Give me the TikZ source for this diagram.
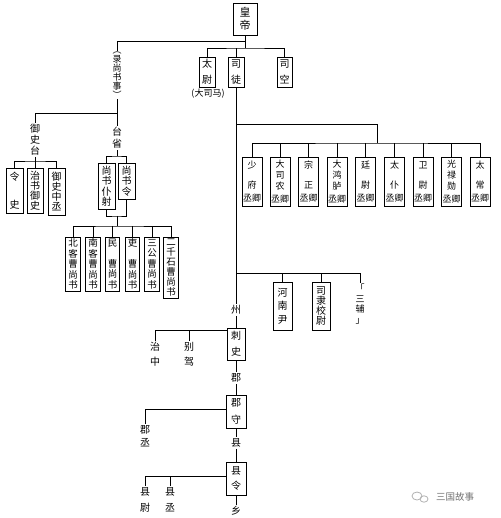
\documentclass[tikz,border=0pt]{standalone}
\usepackage{fontspec}
\setmainfont{Noto Sans CJK SC}
\newcommand\fsz[2]{\fontsize{#1}{#2}\selectfont}
\tikzset{
  bx/.style={draw, line width=0.6pt, inner sep=0pt, align=center},
  lb/.style={inner sep=1.2pt, align=center},
  ln/.style={line width=0.6pt},
  qing/.style={bx, minimum width=20pt, minimum height=49pt, font=\fsz{9}{11}},
  cao/.style={bx, minimum width=14.5pt, minimum height=54pt, font=\fsz{9.5}{10.5}}
}
\begin{document}
\begin{tikzpicture}[x=1pt,y=-1pt]
\useasboundingbox (0,0) rectangle (500,518);
% top
\node[bx, minimum width=24pt, minimum height=32pt, font=\fsz{11}{13}] (hd) at (245,19) {皇\\帝};
\node[bx, minimum width=16pt, minimum height=30pt, font=\fsz{10}{16}] (taiwei) at (207,72) {太\\尉};
\node[lb, font=\fsz{9}{10}] (dasima) at (208,94) {(大司马)};
\node[bx, minimum width=16pt, minimum height=30pt, font=\fsz{10}{16}] (situ) at (236,72) {司\\徒};
\node[bx, minimum width=15pt, minimum height=30pt, font=\fsz{10}{16}] (sikong) at (284.5,72) {司\\空};
\node[lb, inner sep=0.5pt, font=\fsz{9}{9}] (lu) at (117,75) {︵\\录\\尚\\书\\事\\︶};
% left branch
\node[lb, font=\fsz{10}{11}] (yst) at (35,140) {御\\史\\台};
\node[lb, font=\fsz{10}{12}] (tsh) at (117,138) {台\\省};
\node[bx, minimum width=17pt, minimum height=45pt, font=\fsz{10}{10}] (ls) at (14.5,190.5) {令\\[18pt]史};
\node[bx, minimum width=16pt, minimum height=45pt, font=\fsz{10}{10}] (zsys) at (35,190.5) {治\\书\\御\\史};
\node[bx, minimum width=17pt, minimum height=47pt, font=\fsz{10}{10}] (yszc) at (56.5,191.5) {御\\史\\中\\丞};
\node[bx, minimum width=17pt, minimum height=46pt, font=\fsz{10}{10.5}] (pushe) at (106.5,186) {尚\\书\\仆\\射};
\node[bx, minimum width=17pt, minimum height=36pt, font=\fsz{10}{10.5}] (shl) at (126.5,181) {尚\\书\\令};
\node[cao] (c1) at (73,264) {北\\客\\曹\\尚\\书};
\node[cao] (c2) at (93,264) {南\\客\\曹\\尚\\书};
\node[cao] (c3) at (112.5,264) {民\\[10.5pt]曹\\尚\\书};
\node[cao] (c4) at (132.5,264) {吏\\[10.5pt]曹\\尚\\书};
\node[cao] (c5) at (152,264) {三\\公\\曹\\尚\\书};
\node[cao, minimum height=61pt, font=\fsz{9.5}{10}] (c6) at (171,267.5) {二\\千\\石\\曹\\尚\\书};
% nine ministers
\node[qing] (q1) at (252,181.5) {少\\[9pt]府\\[2pt]丞卿};
\node[qing] (q2) at (280,181.5) {大\\司\\农\\[2pt]丞卿};
\node[qing] (q3) at (308.5,181.5) {宗\\[9pt]正\\[2pt]丞卿};
\node[qing] (q4) at (337,181.5) {大\\鸿\\胪\\[2pt]丞卿};
\node[qing] (q5) at (365.5,181.5) {廷\\[9pt]尉\\[2pt]丞卿};
\node[qing] (q6) at (394.5,181.5) {太\\[9pt]仆\\[2pt]丞卿};
\node[qing] (q7) at (423,181.5) {卫\\[9pt]尉\\[2pt]丞卿};
\node[qing] (q8) at (451.5,181.5) {光\\禄\\勋\\[2pt]丞卿};
\node[qing] (q9) at (480,181.5) {太\\[9pt]常\\[2pt]丞卿};
% capital
\node[bx, minimum width=19pt, minimum height=48pt, font=\fsz{10}{13.5}] (henan) at (282.5,306) {河\\南\\尹};
\node[bx, minimum width=18pt, minimum height=48pt, font=\fsz{10}{10}] (sili) at (321,306) {司\\隶\\校\\尉};
\node[lb, font=\fsz{9}{10.5}] (sanfu) at (360,304) {「\\三\\辅\\」};
% local
\node[lb, font=\fsz{10}{12}] (zhou) at (236,310) {州};
\node[bx, minimum width=18pt, minimum height=32pt, font=\fsz{10}{16}] (cishi) at (236,344) {刺\\史};
\node[lb, font=\fsz{10}{15}] (zhizhong) at (155,354.5) {治\\中};
\node[lb, font=\fsz{10}{15}] (biejia) at (189,354.5) {别\\驾};
\node[lb, font=\fsz{10}{12}] (jun) at (236,378) {郡};
\node[bx, minimum width=20pt, minimum height=33pt, font=\fsz{10}{17}] (junshou) at (236,411.5) {郡\\守};
\node[lb, font=\fsz{10}{13}] (junch) at (145,436.5) {郡\\丞};
\node[lb, font=\fsz{10}{12}] (xian) at (236,443) {县};
\node[bx, minimum width=20pt, minimum height=33pt, font=\fsz{10}{15}] (xianling) at (236,478.5) {县\\令};
\node[lb, font=\fsz{10}{16}] (xw) at (145,500) {县\\尉};
\node[lb, font=\fsz{10}{16}] (xc) at (170,500) {县\\丞};
\node[lb, font=\fsz{10}{12}] (xiang) at (236,511) {乡};
% watermark
\node[lb, text=black!55, font=\fsz{9.5}{11}] (wm) at (455,497) {三国故事};
\draw[black!30, line width=0.8pt] (417,496) ellipse (5pt and 4pt);
\draw[black!30, line width=0.8pt] (424,499) ellipse (4pt and 3.2pt);
% junction coordinates
\coordinate (j41) at (245,41);
\coordinate (j48) at (245,48);
\coordinate (j113) at (117,113);
\coordinate (j161) at (35,161);
\coordinate (j156) at (117,156);
\coordinate (j216) at (117,216);
\coordinate (j226) at (117,226);
\coordinate (j124) at (236,124);
\coordinate (j143) at (377,143);
\coordinate (j273) at (236,273);
\coordinate (j330) at (155,330);
\coordinate (j409) at ([yshift=2pt]junshou.west);
\coordinate (j476) at ([yshift=2pt]xianling.west);
% connectors
\begin{scope}[ln]
\draw (hd.south) -- (j48);
\draw (taiwei.north) |- (j48) -| (sikong.north);
\draw (situ.north) -- (situ.north |- j48);
\draw (j41) -| (lu.north);
\draw (lu.south) -- (tsh.north);
\draw (yst.north) |- (j113);
\draw (yst.south) -- (j161);
\draw (ls.north) |- (j161) -| (yszc.north);
\draw (zsys.north) -- (j161);
\draw (tsh.south) -- (j156);
\draw (pushe.north) |- (j156) -| (shl.north);
\draw (pushe.south) |- (j216) -| (shl.south);
\draw (j216) -- (j226);
\draw (c1.north) |- (j226) -| (c6.north);
\foreach \c in {c2,c3,c4,c5} \draw (\c.north) -- (\c.north |- j226);
\draw (situ.south) -- (zhou.north);
\draw (j124) -| (j143);
\draw (q1.north) |- (j143) -| (q9.north);
\foreach \q in {q2,q3,q4,q5,q6,q7,q8} \draw (\q.north) -- (\q.north |- j143);
\draw (j273) -| (sanfu.north);
\draw (henan.north) -- (henan.north |- j273);
\draw (sili.north) -- (sili.north |- j273);
\draw (zhou.south) -- (cishi.north);
\draw (cishi.west |- j330) -| (zhizhong.north);
\draw (biejia.north) -- (biejia.north |- j330);
\draw (cishi.south) -- (jun.north);
\draw (jun.south) -- (junshou.north);
\draw (j409) -| (junch.north);
\draw (junshou.south) -- (xian.north);
\draw (xian.south) -- (xianling.north);
\draw (j476) -| (xw.north);
\draw (xc.north) -- (xc.north |- j476);
\draw (xianling.south) -- (xiang.north);
\end{scope}
\end{tikzpicture}
\end{document}
